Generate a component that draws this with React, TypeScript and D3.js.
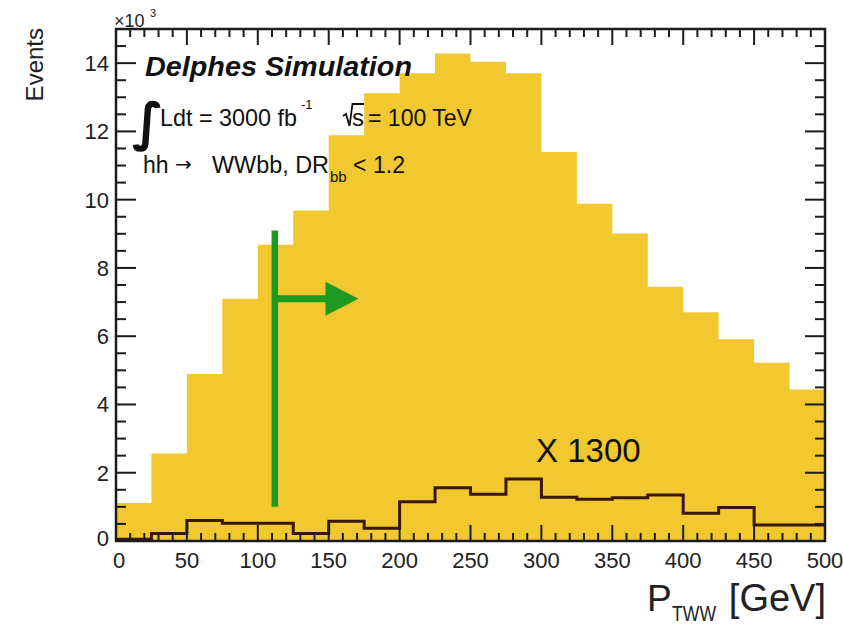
import React from 'react';
import * as d3 from 'd3';

// Histogram binning: 20 bins of 25 GeV in P_T(WW)
const binLow = [0, 25, 50, 75, 100, 125, 150, 175, 200, 225, 250, 275, 300, 325, 350, 375, 400, 425, 450, 475];
const binWidth = 25;

// Signal (hh -> WWbb) events per bin, in units of 10^3
const signalEvents = [1.11, 2.56, 4.89, 7.1, 8.68, 9.68, 11.89, 13.12, 13.7, 14.28, 14.04, 13.7, 11.4, 9.88, 9.01, 7.45, 6.7, 5.91, 5.22, 4.44];

// Second sample, drawn as an outline after scaling by 1300
const scaledOutline = [0.05, 0.22, 0.6, 0.52, 0.52, 0.22, 0.58, 0.37, 1.15, 1.56, 1.37, 1.82, 1.28, 1.22, 1.27, 1.35, 0.81, 0.98, 0.47, 0.47];

const xTickLabels = [0, 50, 100, 150, 200, 250, 300, 350, 400, 450, 500];
const yTickLabels = [0, 2, 4, 6, 8, 10, 12, 14];

// Cut marker: P_T > 112 GeV
const cutValue = 112;
const cutLow = 1.0;
const cutHigh = 9.1;
const arrowLevel = 7.1;
const arrowTip = 171;

const W = 843;
const H = 629;
const plot = { left: 116, right: 825, top: 29, bottom: 541 };
const FONT = "'Liberation Sans', Arial, Helvetica, sans-serif";

export default function App() {
  const x = d3.scaleLinear().domain([0, 500]).range([plot.left, plot.right]);
  const y = d3.scaleLinear().domain([0, 15]).range([plot.bottom, plot.top]);

  const stepPts = (vals: number[]): [number, number][] => {
    const pts: [number, number][] = binLow.map((b, i) => [b, vals[i]]);
    pts.push([binLow[binLow.length - 1] + binWidth, vals[vals.length - 1]]);
    return pts;
  };

  const area = d3
    .area<[number, number]>()
    .x((d) => x(d[0]))
    .y0(y(0))
    .y1((d) => y(d[1]))
    .curve(d3.curveStepAfter);

  const line = d3
    .line<[number, number]>()
    .x((d) => x(d[0]))
    .y((d) => y(d[1]))
    .curve(d3.curveStepAfter);

  const xMinor = d3.range(0, 501, 10);
  const yMinor = d3.range(0, 15.001, 0.5);

  const tickColor = '#1c1c1c';
  const green = '#1f9a21';

  const headBase = x(arrowTip) - 33;
  const ay = y(arrowLevel);

  return (
    <svg
      width={W}
      height={H}
      style={{ position: 'absolute', left: 0, top: 0, background: '#fff' }}
      fontFamily={FONT}
    >
      {/* signal histogram */}
      <path d={area(stepPts(signalEvents)) || ''} fill="#f1c82f" />
      {/* scaled outline histogram */}
      <path
        d={line(stepPts(scaledOutline)) || ''}
        fill="none"
        stroke="#3a160b"
        strokeWidth={3}
        strokeLinejoin="miter"
      />

      {/* ticks */}
      <g stroke={tickColor} strokeWidth={2}>
        {xMinor.map((v) => {
          const major = v % 50 === 0;
          const len = major ? 16 : 8;
          return (
            <g key={'x' + v}>
              <line x1={x(v)} x2={x(v)} y1={plot.bottom} y2={plot.bottom - len} />
              <line x1={x(v)} x2={x(v)} y1={plot.top} y2={plot.top + len} />
            </g>
          );
        })}
        {yMinor.map((v) => {
          const major = Math.abs(v % 2) < 1e-6;
          const len = major ? 20 : 10;
          return (
            <g key={'y' + v}>
              <line x1={plot.left} x2={plot.left + len} y1={y(v)} y2={y(v)} />
              <line x1={plot.right} x2={plot.right - len} y1={y(v)} y2={y(v)} />
            </g>
          );
        })}
      </g>
      {/* frame */}
      <rect
        x={plot.left}
        y={plot.top}
        width={plot.right - plot.left}
        height={plot.bottom - plot.top}
        fill="none"
        stroke={tickColor}
        strokeWidth={2.5}
      />

      {/* tick labels */}
      <g fontSize={22} fill="#222">
        {xTickLabels.map((v) => (
          <text key={'xl' + v} x={x(v) + (v === 0 ? 3 : 0)} y={568} textAnchor="middle">
            {v}
          </text>
        ))}
        {yTickLabels.map((v) => (
          <text key={'yl' + v} x={109} y={y(v) + 8 - (v === 0 ? 3 : 0)} textAnchor="end">
            {v}
          </text>
        ))}
      </g>

      {/* exponent */}
      <text x={114} y={27} fontSize={18} fill="#222">
        ×10
      </text>
      <text x={150} y={17} fontSize={11} fill="#222">
        3
      </text>

      {/* axis titles */}
      <text
        transform={`translate(43,28) rotate(-90)`}
        textAnchor="end"
        fontSize={24}
        fill="#222"
      >
        Events
      </text>
      <g fill="#222">
        <text x={647} y={611} fontSize={37}>P</text>
        <text x={672} y={621} fontSize={22} textLength={44} lengthAdjust="spacingAndGlyphs">TWW</text>
        <text x={826} y={611} fontSize={38} textAnchor="end">[GeV]</text>
      </g>

      {/* legend text */}
      <g fill="#111">
        <text
          x={145}
          y={76}
          fontSize={28}
          fontWeight="bold"
          fontStyle="italic"
          textLength={267}
          lengthAdjust="spacingAndGlyphs"
        >
          Delphes Simulation
        </text>
        <text x={132} y={140} fontSize={52} fontFamily="'DejaVu Sans', sans-serif" fontWeight="bold">
          ∫
        </text>
        <text x={160} y={126} fontSize={24} textLength={137} lengthAdjust="spacingAndGlyphs">
          Ldt = 3000 fb
        </text>
        <text x={301} y={109} fontSize={13}>-1</text>
        <path
          d={`M 343 116 L 346 114 L 349.5 126 L 352.5 104 L 364 104`}
          fill="none"
          stroke="#111"
          strokeWidth={1.8}
        />
        <text x={352} y={126} fontSize={24}>s</text>
        <text x={368} y={126} fontSize={24} textLength={104} lengthAdjust="spacingAndGlyphs">
          = 100 TeV
        </text>
        <text x={143} y={173} fontSize={23}>hh</text>
        <text x={175} y={171} fontSize={20} fontFamily="'DejaVu Sans', sans-serif">→</text>
        <text x={212} y={173} fontSize={23} textLength={117} lengthAdjust="spacingAndGlyphs">
          WWbb, DR
        </text>
        <text x={330} y={182} fontSize={15}>bb</text>
        <text x={353} y={173} fontSize={23} textLength={52} lengthAdjust="spacingAndGlyphs">
          &lt; 1.2
        </text>
      </g>

      {/* cut marker */}
      <line
        x1={x(cutValue)}
        x2={x(cutValue)}
        y1={y(cutHigh)}
        y2={y(cutLow)}
        stroke={green}
        strokeWidth={6.5}
      />
      <line x1={x(cutValue)} x2={headBase + 1} y1={ay} y2={ay} stroke={green} strokeWidth={7} />
      <path d={`M ${headBase} ${ay - 17} L ${x(arrowTip)} ${ay} L ${headBase} ${ay + 17} Z`} fill={green} />

      <text x={536} y={462} fontSize={33} fill="#111">
        X 1300
      </text>
    </svg>
  );
}
